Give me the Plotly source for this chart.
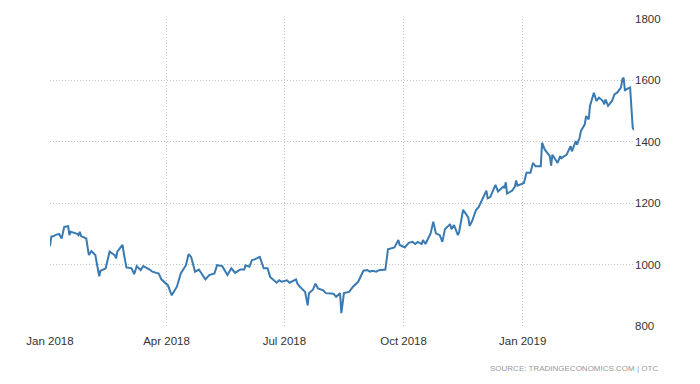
import plotly.graph_objects as go

dates = [
    "2018-01-01", "2018-01-02", "2018-01-04", "2018-01-05", "2018-01-08", "2018-01-10",
    "2018-01-12", "2018-01-15", "2018-01-16", "2018-01-17", "2018-01-22", "2018-01-23",
    "2018-01-24", "2018-01-25", "2018-01-29", "2018-01-31", "2018-02-02", "2018-02-05",
    "2018-02-08", "2018-02-09", "2018-02-13", "2018-02-16", "2018-02-20", "2018-02-21",
    "2018-02-22", "2018-02-26", "2018-02-27", "2018-03-01", "2018-03-05", "2018-03-07",
    "2018-03-09", "2018-03-12", "2018-03-14", "2018-03-16", "2018-03-19", "2018-03-21",
    "2018-03-26", "2018-03-28", "2018-04-02", "2018-04-05", "2018-04-09", "2018-04-12",
    "2018-04-16", "2018-04-18", "2018-04-20", "2018-04-23", "2018-04-26", "2018-05-01",
    "2018-05-04", "2018-05-08", "2018-05-10", "2018-05-14", "2018-05-18", "2018-05-21",
    "2018-05-24", "2018-05-28", "2018-05-31", "2018-06-01", "2018-06-04", "2018-06-06",
    "2018-06-08", "2018-06-12", "2018-06-13", "2018-06-15", "2018-06-18", "2018-06-20",
    "2018-06-22", "2018-06-25", "2018-06-27", "2018-06-29", "2018-07-03", "2018-07-05",
    "2018-07-10", "2018-07-11", "2018-07-13", "2018-07-17", "2018-07-19", "2018-07-20",
    "2018-07-23", "2018-07-25", "2018-07-27", "2018-07-31", "2018-08-02", "2018-08-06",
    "2018-08-08", "2018-08-10", "2018-08-13", "2018-08-14", "2018-08-16", "2018-08-20",
    "2018-08-21", "2018-08-23", "2018-08-27", "2018-08-29", "2018-08-31", "2018-09-03",
    "2018-09-05", "2018-09-07", "2018-09-10", "2018-09-12", "2018-09-17", "2018-09-19",
    "2018-09-24", "2018-09-27", "2018-09-28", "2018-10-02", "2018-10-05", "2018-10-08",
    "2018-10-10", "2018-10-12", "2018-10-15", "2018-10-16", "2018-10-18", "2018-10-22",
    "2018-10-24", "2018-10-26", "2018-10-29", "2018-10-31", "2018-11-02", "2018-11-06",
    "2018-11-07", "2018-11-09", "2018-11-12", "2018-11-13", "2018-11-16", "2018-11-20",
    "2018-11-21", "2018-11-23", "2018-11-26", "2018-11-28", "2018-11-30", "2018-12-04",
    "2018-12-05", "2018-12-07", "2018-12-11", "2018-12-13", "2018-12-17", "2018-12-18",
    "2018-12-19", "2018-12-20", "2018-12-24", "2018-12-26", "2018-12-27", "2018-12-28",
    "2019-01-02", "2019-01-04", "2019-01-07", "2019-01-09", "2019-01-11", "2019-01-15",
    "2019-01-16", "2019-01-18", "2019-01-22", "2019-01-23", "2019-01-24", "2019-01-28",
    "2019-01-30", "2019-01-31", "2019-02-04", "2019-02-06", "2019-02-07", "2019-02-08",
    "2019-02-11", "2019-02-12", "2019-02-14", "2019-02-15", "2019-02-18", "2019-02-19",
    "2019-02-21", "2019-02-22", "2019-02-25", "2019-02-27", "2019-03-01", "2019-03-04",
    "2019-03-05", "2019-03-06", "2019-03-08", "2019-03-11", "2019-03-13", "2019-03-15",
    "2019-03-18", "2019-03-19", "2019-03-20", "2019-03-21", "2019-03-22", "2019-03-25",
    "2019-03-27", "2019-03-28",
]

prices = [
    1060, 1091, 1093, 1096, 1100, 1085,
    1123, 1125, 1096, 1107, 1100, 1096,
    1107, 1093, 1085, 1031, 1044, 1031,
    962, 980, 988, 1042, 1031, 1020,
    1042, 1064, 1037, 991, 988, 969,
    995, 982, 995, 991, 984, 977,
    971, 952, 933, 900, 928, 971,
    998, 1034, 1025, 977, 984, 952,
    966, 971, 998, 995, 966, 988,
    973, 984, 984, 998, 993, 1015,
    1017, 1025, 1012, 988, 988, 960,
    952, 941, 949, 944, 949, 941,
    952, 938, 928, 911, 867, 907,
    918, 938, 922, 916, 907, 905,
    905, 895, 907, 842, 907, 911,
    918, 928, 944, 960, 980, 982,
    977, 980, 977, 982, 984, 1050,
    1056, 1080, 1064, 1056, 1071, 1074,
    1067, 1074, 1067, 1080, 1067, 1102,
    1140, 1102, 1096, 1074, 1115, 1132,
    1115, 1129, 1096, 1107, 1178, 1154,
    1126, 1142, 1178, 1187, 1205, 1241,
    1216, 1220, 1260, 1238, 1254, 1249,
    1268, 1231, 1241, 1254, 1274, 1257,
    1266, 1299, 1299, 1331, 1320, 1320,
    1397, 1375, 1353, 1322, 1358, 1331,
    1353, 1347, 1358, 1375, 1386, 1369,
    1402, 1391, 1413, 1435, 1457, 1484,
    1473, 1517, 1560, 1533, 1544, 1533,
    1522, 1538, 1517, 1533, 1555, 1560,
    1577, 1604, 1609, 1566, 1571, 1577,
    1446, 1438,
]

x_tick_vals = ["2018-01-01", "2018-04-01", "2018-07-01", "2018-10-01", "2019-01-01"]
x_tick_text = ["Jan 2018", "Apr 2018", "Jul 2018", "Oct 2018", "Jan 2019"]
y_tick_vals = [800, 1000, 1200, 1400, 1600, 1800]

fig = go.Figure()
fig.add_trace(go.Scatter(
    x=dates, y=prices, mode="lines",
    line=dict(color="#3a7ab3", width=2),
    hoverinfo="skip",
))

fig.update_layout(
    width=692, height=376,
    margin=dict(l=42, r=66, t=11, b=58),
    paper_bgcolor="white", plot_bgcolor="white",
    showlegend=False,
    font=dict(family="Liberation Sans, Arial, sans-serif", size=12, color="#333333"),
    xaxis=dict(
        range=["2018-01-01", "2019-03-28"],
        tickvals=x_tick_vals, ticktext=x_tick_text,
        showgrid=True, gridcolor="#c4c4c4", griddash="1px,2px", gridwidth=1,
        zeroline=False, showline=False, ticks="", automargin=False,
        ticklabelstandoff=6,
        tickfont=dict(size=11.5, color="#333333"),
    ),
    yaxis=dict(
        range=[800, 1800], side="right",
        tickvals=y_tick_vals,
        showgrid=True, gridcolor="#c4c4c4", griddash="1px,2px", gridwidth=1,
        zeroline=False, showline=False, ticks="", automargin=False,
        tickfont=dict(size=11.5, color="#333333"),
    ),
    annotations=[dict(
        text="SOURCE: TRADINGECONOMICS.COM | OTC",
        xref="paper", yref="paper", x=1.045, y=-0.137,
        xanchor="right", yanchor="middle", showarrow=False,
        font=dict(size=8, color="#999999", family="Liberation Sans, Arial, sans-serif"),
    )],
)

fig.write_html("out.html")
